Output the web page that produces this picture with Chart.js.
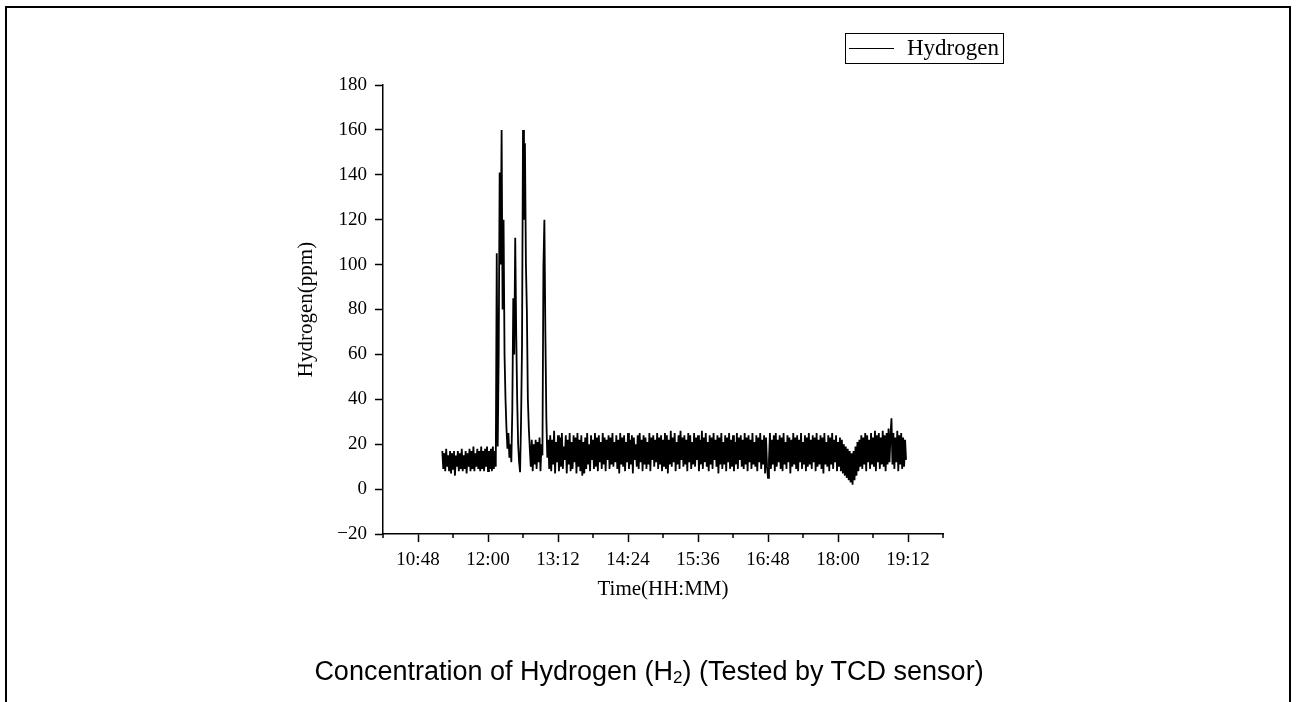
<!DOCTYPE html>
<html>
<head>
<meta charset="utf-8">
<title>Concentration of Hydrogen (H2)</title>
<script src="https://cdn.jsdelivr.net/npm/chart.js@4.4.1/dist/chart.umd.min.js"></script>
<style>
    html, body { margin: 0; padding: 0; background: #fff; }
    body { width: 1298px; height: 702px; position: relative; overflow: hidden; }
    #frame { position: absolute; left: 5px; top: 6px; right: 7px; height: 760px; border: 2px solid #000; }
    #chart { position: absolute; left: 0; top: 0; }
    #caption {
        position: absolute; left: 0; top: 656px; width: 1298px; text-align: center;
        font: 27px "Liberation Sans", Arial, sans-serif; line-height: 30px; color: #000;
    }
    #caption sub { font-size: 17px; vertical-align: -3px; line-height: 0; }
</style>
</head>
<body>
<div id="frame"></div>
<canvas id="chart" width="1298" height="702"></canvas>
<div id="caption">Concentration of Hydrogen (H<sub>2</sub>) (Tested by TCD sensor)</div>
<script>
    'use strict';

    // one reading per minute, first one at 11:13
    const startMinute = 11 * 60 + 13;
    const sampleStep = 1;

    // 11:13 - 12:08, before the release
    const baseline = [
        17, 9, 16, 8, 18, 10, 15, 8, 17, 7,
        16, 9, 17, 6, 15, 10, 17, 8, 16, 9,
        18, 8, 15, 9, 17, 7, 16, 10, 18, 8,
        17, 9, 19, 8, 16, 10, 18, 9, 17, 8,
        19, 9, 17, 8, 18, 10, 19, 8, 17, 9,
        18, 8, 19, 9, 17, 10
    ];

    // 12:09 - 13:02, the peaks
    const peaks = [
        105, 19, 60, 141, 100, 160, 80, 120, 60, 40,
        27, 18, 25, 14, 20, 12, 35, 85, 60, 112,
        70, 40, 20, 12, 7.5, 30, 64, 160, 120, 154,
        100, 79, 40, 27, 18, 10, 22, 8, 20, 11,
        22, 9, 21, 12, 23, 8, 20, 15, 99, 120,
        70, 32, 14, 22
    ];

    // 13:03 - 19:10
    const steady = [
        9, 24, 8, 22, 11, 26, 7, 21, 12, 24,
        8, 23, 10, 25, 9, 19, 13, 24, 7, 22,
        11, 25, 8, 21, 9, 24, 12, 23, 7, 25,
        10, 22, 8, 24, 6, 21, 7, 23, 9, 25,
        11, 20, 8, 24, 13, 22, 9, 25, 10, 23,
        8, 24, 12, 21, 9, 25, 11, 23, 8, 22,
        13, 24, 9, 23, 11, 25, 10, 21, 12, 24,
        9, 22, 7, 25, 11, 23, 10, 24, 8, 21,
        12, 25, 9, 22, 11, 24, 7, 23, 13, 20,
        10, 24, 9, 25, 12, 22, 8, 24, 11, 23,
        9, 21, 11, 25, 8, 23, 13, 24, 10, 22,
        12, 25, 9, 23, 11, 24, 8, 22, 10, 25,
        9, 24, 7, 22, 11, 26, 10, 23, 12, 25,
        8, 21, 11, 24, 9, 26, 13, 23, 10, 24,
        11, 22, 8, 25, 12, 24, 9, 21, 11, 25,
        10, 23, 13, 24, 8, 22, 11, 26, 9, 23,
        12, 25, 10, 21, 8, 24, 11, 23, 9, 25,
        13, 22, 10, 24, 7, 23, 11, 25, 9, 21,
        11, 24, 8, 23, 12, 25, 9, 22, 10, 24,
        8, 21, 11, 25, 9, 23, 13, 24, 10, 22,
        9, 25, 11, 23, 8, 24, 12, 22, 9, 25,
        11, 21, 10, 24, 8, 23, 12, 25, 9, 22,
        11, 24, 7, 23, 10, 5, 13, 25, 9, 22,
        11, 24, 8, 25, 10, 22, 12, 24, 9, 23,
        8, 25, 11, 21, 9, 24, 12, 23, 7, 22,
        10, 25, 11, 23, 9, 24, 8, 22, 12, 25,
        9, 21, 11, 24, 8, 23, 10, 25, 11, 22,
        9, 24, 12, 23, 8, 25, 10, 22, 11, 24,
        9, 23, 7, 25, 11, 21, 10, 24, 8, 23,
        11, 25, 9, 22, 12, 24, 8, 21, 10, 23,
        8, 22, 7, 20, 6, 19, 5, 18, 4, 17,
        3, 16, 2, 17, 4, 19, 6, 21, 8, 22,
        10, 24, 9, 23, 11, 25, 8, 24, 12, 22,
        9, 25, 11, 23, 10, 26, 8, 24, 12, 25,
        9, 23, 11, 26, 10, 24, 8, 25, 11, 27,
        12, 24, 31.5, 11, 25, 9, 23, 12, 26, 8,
        24, 11, 25, 9, 23, 10, 22, 13
    ];

    const timeLabels = ['10:48', '12:00', '13:12', '14:24', '15:36', '16:48', '18:00', '19:12'];
    const xRange = [10 * 60 + 12, 19 * 60 + 48];
    const xStep = 36;
    const yRange = [-20, 180];
    const yStep = 10;
    const yLabelStep = 20;

    const hydrogen = baseline.concat(peaks, steady);
    const points = hydrogen.map((v, i) => ({ x: startMinute + i * sampleStep, y: v }));

    const fmtTime = (m) => {
        const h = Math.floor(m / 60);
        const mm = m % 60;
        return h + ':' + (mm < 10 ? '0' : '') + mm;
    };
    const isMajorX = (v) => timeLabels.includes(fmtTime(v));
    const isMajorY = (v) => v % yLabelStep === 0;

    const serif = '"Liberation Serif", "Times New Roman", serif';

    const minorTicks = {
        id: 'minorTicks',
        afterDraw(chart) {
            const ctx = chart.ctx;
            const xs = chart.scales.x;
            const ys = chart.scales.y;
            ctx.save();
            ctx.strokeStyle = '#000';
            ctx.lineWidth = 1.5;
            ctx.beginPath();
            xs.ticks.forEach(t => {
                if (isMajorX(t.value)) return;
                const px = xs.getPixelForValue(t.value);
                ctx.moveTo(px, xs.top);
                ctx.lineTo(px, xs.top + 4);
            });
            ys.ticks.forEach(t => {
                if (isMajorY(t.value)) return;
                const py = ys.getPixelForValue(t.value);
                ctx.moveTo(ys.right, py);
                ctx.lineTo(ys.right - 4, py);
            });
            ctx.stroke();
            ctx.restore();
        }
    };

    const boxLegend = {
        id: 'boxLegend',
        afterDraw(chart) {
            const ctx = chart.ctx;
            const ds = chart.data.datasets[0];
            ctx.save();
            ctx.strokeStyle = '#000';
            ctx.lineWidth = 1;
            ctx.strokeRect(845.5, 33.5, 158, 30);
            ctx.lineWidth = 1.2;
            ctx.beginPath();
            ctx.moveTo(849, 48.5);
            ctx.lineTo(894, 48.5);
            ctx.stroke();
            ctx.fillStyle = '#000';
            ctx.font = '23px ' + serif;
            ctx.textBaseline = 'middle';
            ctx.fillText(ds.label, 907, 49);
            ctx.restore();
        }
    };

    const tickColor = (isMajor) => (c) => (c.tick && isMajor(c.tick.value) ? '#000' : 'rgba(0,0,0,0)');

    new Chart(document.getElementById('chart'), {
        type: 'line',
        data: {
            datasets: [{
                label: 'Hydrogen',
                data: points,
                borderColor: '#000',
                borderWidth: 1.8,
                pointRadius: 0,
                tension: 0,
                fill: false
            }]
        },
        options: {
            responsive: false,
            animation: false,
            devicePixelRatio: 1,
            layout: { padding: { left: 294, right: 355, top: 85, bottom: 100 } },
            plugins: {
                legend: { display: false },
                tooltip: { enabled: false }
            },
            scales: {
                x: {
                    type: 'linear',
                    min: xRange[0],
                    max: xRange[1],
                    afterFit(scale) { scale.height = 68; },
                    ticks: {
                        stepSize: xStep,
                        autoSkip: false,
                        maxRotation: 0,
                        padding: 7,
                        color: '#000',
                        font: { family: serif, size: 19 },
                        callback: (v) => (isMajorX(v) ? fmtTime(v) : '')
                    },
                    grid: {
                        drawOnChartArea: false,
                        tickLength: 8,
                        tickWidth: 1.5,
                        tickColor: tickColor(isMajorX)
                    },
                    border: { display: true, color: '#000', width: 1.5 },
                    title: {
                        display: true,
                        text: 'Time(HH:MM)',
                        color: '#000',
                        font: { family: serif, size: 21 },
                        padding: 0
                    }
                },
                y: {
                    min: yRange[0],
                    max: yRange[1],
                    afterFit(scale) { scale.width = 89; },
                    ticks: {
                        stepSize: yStep,
                        padding: 8,
                        color: '#000',
                        font: { family: serif, size: 19 },
                        callback: (v) => (isMajorY(v) ? String(v).replace('-', '\u2212') : '')
                    },
                    grid: {
                        drawOnChartArea: false,
                        tickLength: 8,
                        tickWidth: 1.5,
                        tickColor: tickColor(isMajorY)
                    },
                    border: { display: true, color: '#000', width: 1.5 },
                    title: {
                        display: true,
                        text: 'Hydrogen(ppm)',
                        color: '#000',
                        font: { family: serif, size: 21 },
                        padding: 0
                    }
                }
            }
        },
        plugins: [minorTicks, boxLegend]
    });
</script>
</body>
</html>
